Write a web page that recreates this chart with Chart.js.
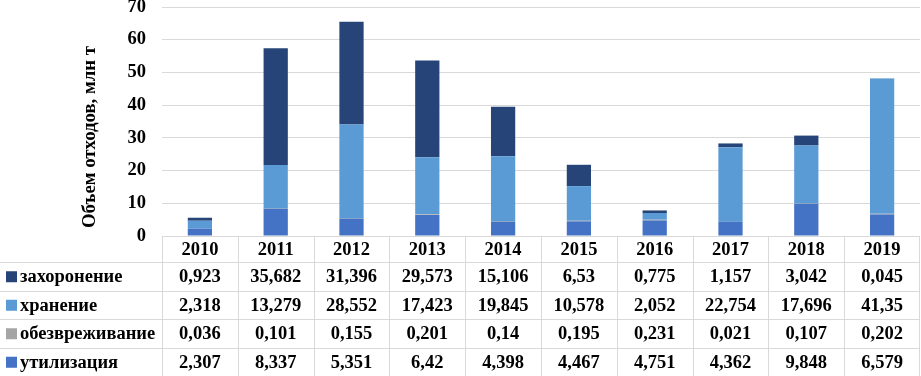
<!DOCTYPE html>
<html>
<head>
<meta charset="utf-8">
<script src="https://cdn.jsdelivr.net/npm/chart.js@4"></script>
<style>
  html, body { margin: 0; padding: 0; background: #fff; }
  #wrap { width: 921px; height: 376px; }
</style>
</head>
<body>
<div id="wrap"><canvas id="chart" width="921" height="376"></canvas></div>
<script>
// DATA
var years = ['2010', '2011', '2012', '2013', '2014', '2015', '2016', '2017', '2018', '2019'];
var zahoronenie = [0.923, 35.682, 31.396, 29.573, 15.106, 6.53, 0.775, 1.157, 3.042, 0.045];
var hranenie = [2.318, 13.279, 28.552, 17.423, 19.845, 10.578, 2.052, 22.754, 17.696, 41.35];
var obezvrezhivanie = [0.036, 0.101, 0.155, 0.201, 0.14, 0.195, 0.231, 0.021, 0.107, 0.202];
var utilizaciya = [2.307, 8.337, 5.351, 6.42, 4.398, 4.467, 4.751, 4.362, 9.848, 6.579];
var yTicks = [0, 10, 20, 30, 40, 50, 60, 70];
var yTitle = 'Объем отходов, млн т';

var FONT = '"Liberation Serif", "Times New Roman", serif';

// rows of the table, top to bottom
var tableRows = [
    { label: 'захоронение', color: '#264478', data: zahoronenie },
    { label: 'хранение', color: '#5b9bd5', data: hranenie },
    { label: 'обезвреживание', color: '#a5a5a5', data: obezvrezhivanie },
    { label: 'утилизация', color: '#4472c4', data: utilizaciya }
];

function fmt(v) {
    return String(v).replace('.', ',');
}

// DATA TABLE under the plot + axis title
var tablePlugin = {
    id: 'dataTable',
    afterDraw: function (chart) {
        var ctx = chart.ctx;
        var area = chart.chartArea;
        var colW = (area.right - area.left) / years.length;
        var top = area.bottom;
        var headH = 26;
        var rowH = 28.5;
        var bottom = top + headH + rowH * tableRows.length;

        ctx.save();
        ctx.strokeStyle = '#d9d9d9';
        ctx.lineWidth = 1;
        ctx.beginPath();
        for (var i = 0; i <= years.length; i++) {
            var x = Math.round(area.left + i * colW) + 0.5;
            if (i === years.length) x = area.right - 0.5;
            ctx.moveTo(x, top);
            ctx.lineTo(x, bottom);
        }
        for (var r = 0; r < tableRows.length; r++) {
            var y = Math.round(top + headH + r * rowH) + 0.5;
            ctx.moveTo(0, y);
            ctx.lineTo(area.right, y);
        }
        ctx.stroke();

        ctx.fillStyle = '#000';
        ctx.font = 'bold 18.5px ' + FONT;
        ctx.textAlign = 'center';
        ctx.textBaseline = 'middle';
        years.forEach(function (yr, i) {
            var cx = chart.scales.x.getPixelForValue(i);
            ctx.fillText(yr, cx, top + headH / 2 + 1);
        });

        tableRows.forEach(function (row, r) {
            var cy = top + headH + r * rowH + rowH / 2 + 1;
            ctx.fillStyle = row.color;
            ctx.fillRect(6, cy - 6, 11, 11);
            ctx.fillStyle = '#000';
            ctx.textAlign = 'left';
            ctx.fillText(row.label, 20, cy);
            ctx.textAlign = 'center';
            row.data.forEach(function (v, i) {
                var cx = chart.scales.x.getPixelForValue(i);
                ctx.fillText(fmt(v), cx, cy);
            });
        });

        // y axis title, a bit condensed like the original
        ctx.translate(90, 137);
        ctx.rotate(-Math.PI / 2);
        ctx.font = 'bold 19px ' + FONT;
        var w = ctx.measureText(yTitle).width;
        if (w > 182) ctx.scale(182 / w, 1);
        ctx.fillText(yTitle, 0, 0);
        ctx.restore();
    }
};

new Chart(document.getElementById('chart'), {
    type: 'bar',
    data: {
        labels: years,
        datasets: [
            { label: 'утилизация', data: utilizaciya, backgroundColor: '#4472c4' },
            { label: 'обезвреживание', data: obezvrezhivanie, backgroundColor: '#a5a5a5' },
            { label: 'хранение', data: hranenie, backgroundColor: '#5b9bd5' },
            { label: 'захоронение', data: zahoronenie, backgroundColor: '#264478' }
        ]
    },
    options: {
        responsive: false,
        animation: false,
        layout: {
            padding: { left: 0, right: 1, top: 7, bottom: 140 }
        },
        datasets: {
            bar: { barPercentage: 0.32, categoryPercentage: 1, borderWidth: 0 }
        },
        plugins: {
            legend: { display: false },
            tooltip: { enabled: false }
        },
        scales: {
            x: {
                stacked: true,
                display: false
            },
            y: {
                stacked: true,
                min: 0,
                max: 70,
                afterBuildTicks: function (scale) {
                    scale.ticks = yTicks.map(function (v) { return { value: v }; });
                },
                afterFit: function (scale) {
                    scale.width = 162;
                    // tick padding should not push the plot down
                    scale.paddingTop = 7;
                    scale.paddingBottom = 0;
                },
                border: { display: false },
                grid: { color: '#d9d9d9', lineWidth: 1, drawTicks: false },
                ticks: {
                    color: '#000',
                    padding: 16,
                    font: { family: FONT, size: 18.5, weight: 'bold' }
                }
            }
        }
    },
    plugins: [tablePlugin]
});
</script>
</body>
</html>
